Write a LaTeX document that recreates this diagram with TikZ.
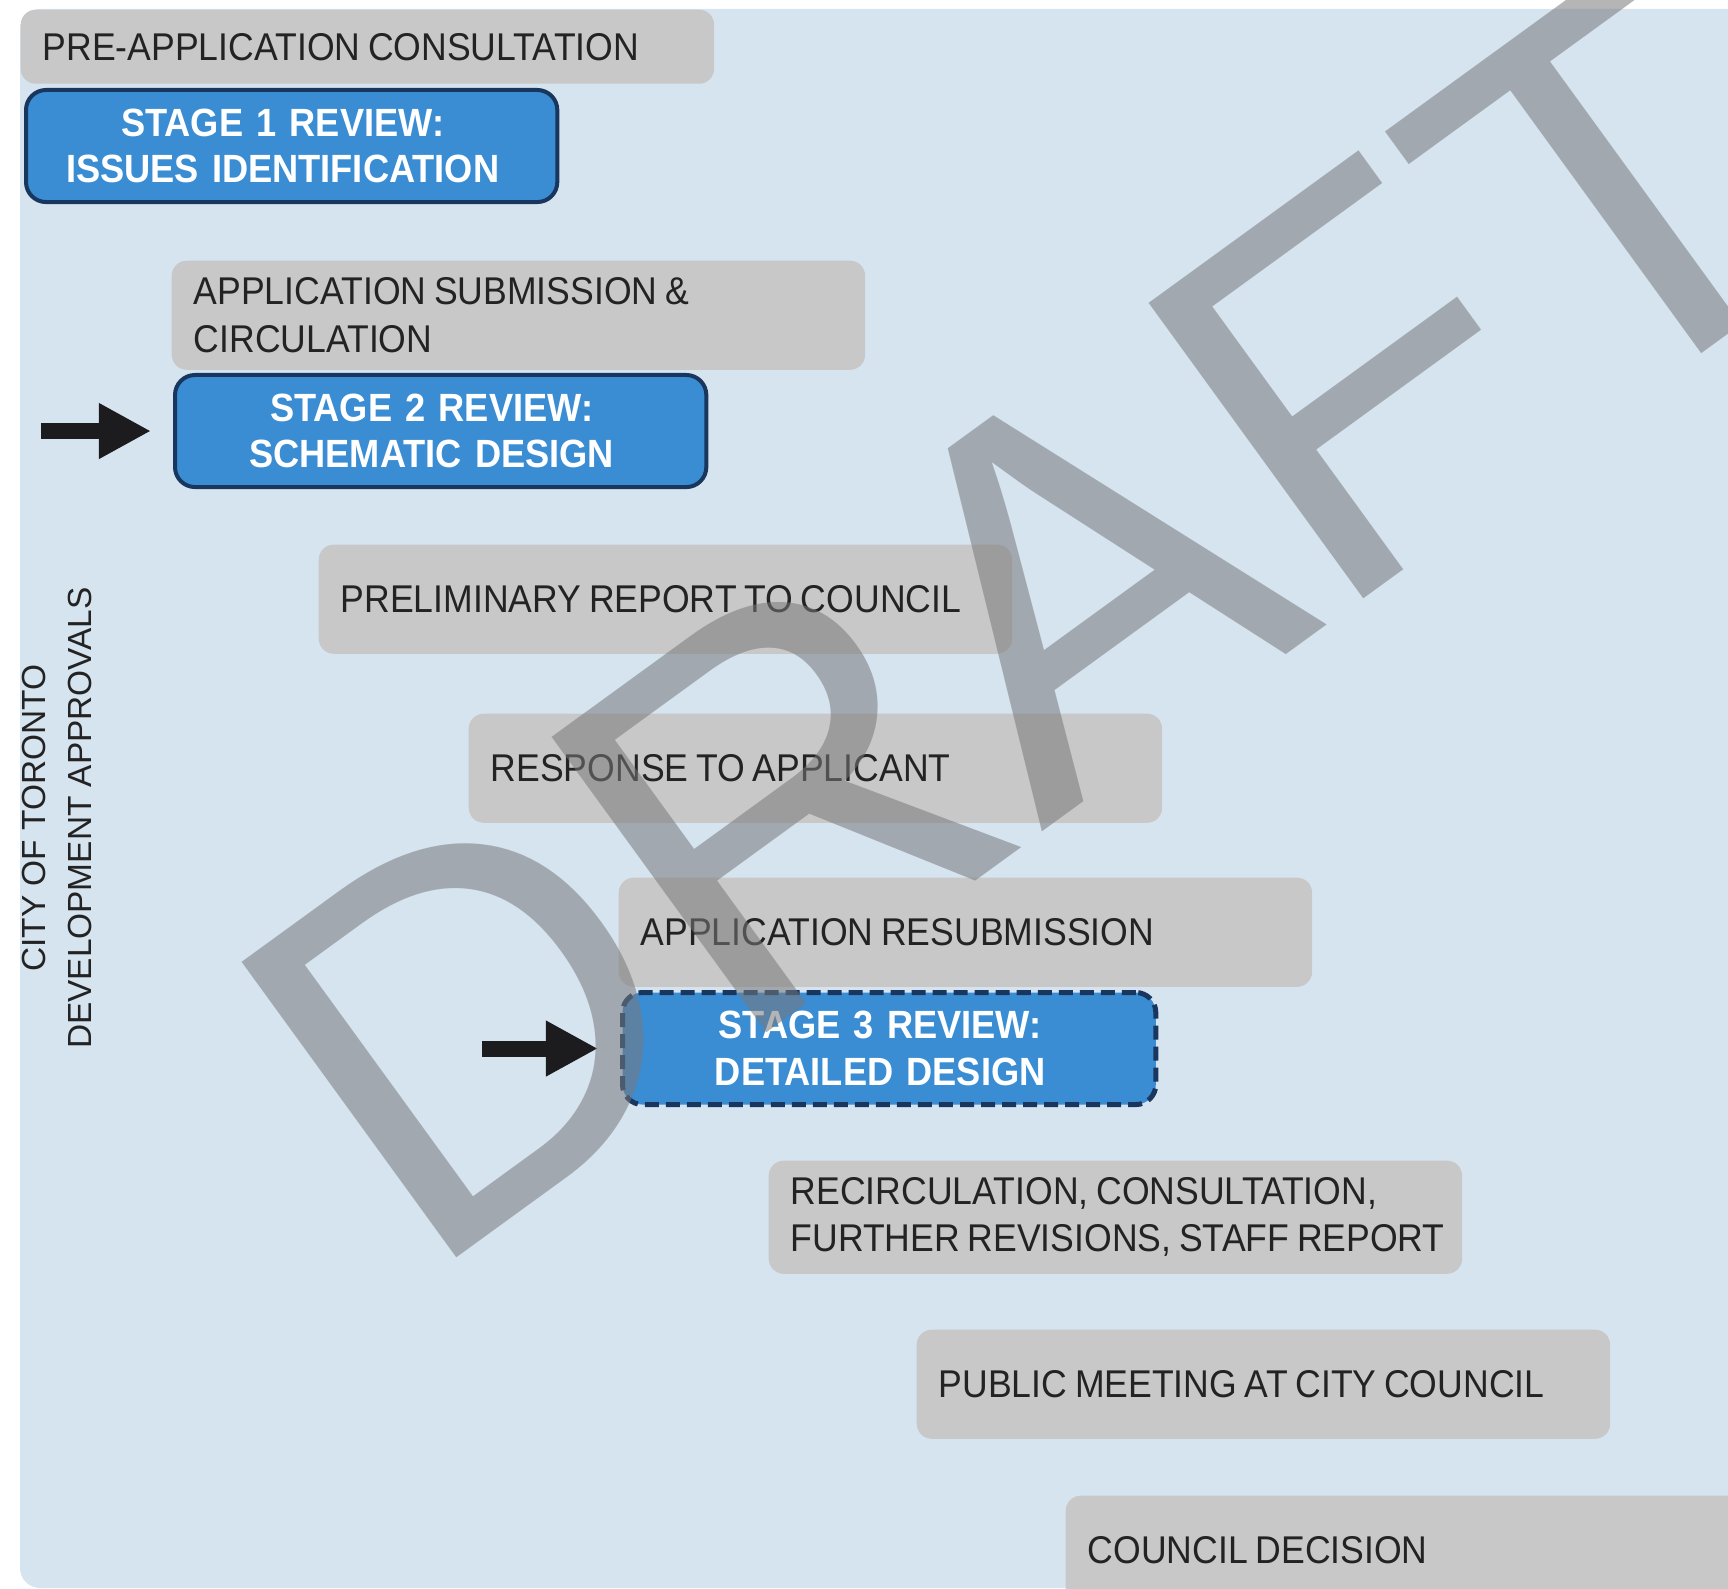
\documentclass[tikz,border=0pt]{standalone}
\usepackage{fontspec}
\setmainfont{Liberation Sans}[FakeStretch=0.92]
\newfontfamily\draftfont{Liberation Sans}
\newfontfamily\sidefont{Liberation Sans}
\usepackage{tikz}
\usetikzlibrary{arrows.meta}
\definecolor{PanelColor}{RGB}{214,228,240}
\definecolor{PhaseGray}{RGB}{200,200,201}
\definecolor{StageBlue}{RGB}{58,141,211}
\definecolor{StageEdge}{RGB}{24,54,94}
\definecolor{InkDark}{RGB}{35,35,35}
\definecolor{ArrowDark}{RGB}{28,28,30}
\definecolor{DraftGray}{RGB}{120,120,122}
\hyphenpenalty=10000
\exhyphenpenalty=10000

\begin{document}
\begin{tikzpicture}[x=0.01cm, y=-0.01cm,
    phase/.style={fill=PhaseGray, rounded corners=0.15cm, anchor=north west,
      minimum width=6.93cm, minimum height=1.09cm, text width=6.8cm,
      inner xsep=0.065cm, inner ysep=0pt, align=left, text=InkDark,
      execute at begin node={\leftskip=0.155cm
        \spaceskip=0.2em plus 0.1em minus 0.06em},
      font=\fontsize{11}{13.4}\selectfont},
    review/.style={fill=StageBlue, draw=StageEdge, line width=0.04cm,
      rounded corners=0.2cm, anchor=north west, minimum width=5.31cm,
      minimum height=1.12cm, text width=5.11cm, inner xsep=0.1cm,
      align=center, text=white,
      execute at begin node={\leftskip=0pt plus 1fil
        \rightskip=0.18cm plus 1fil\parfillskip=0pt},
      font=\fontsize{11.2}{13.2}\selectfont\bfseries},
    pointer/.style={ArrowDark, line width=0.16cm,
      -{Triangle[length=0.52cm, width=0.52cm]}, shorten >=0.22cm},
    draftmark/.style={rotate=36, anchor=base west, inner sep=0pt,
      text=DraftGray, text opacity=0.55,
      font=\draftfont\fontsize{151}{151}\selectfont}]
  \useasboundingbox (0,0) rectangle (1728,1589);
  \clip (0,0) rectangle (1728,1589);
  % Panel
  \fill[PanelColor, rounded corners=0.2cm] (20,9) rectangle (1760,1588);
  % Side label
  \node[rotate=90, align=center, text=InkDark,
    font=\sidefont\fontsize{9.5}{12.8}\selectfont] (agency) at (57,818)
    {CITY OF TORONTO\\DEVELOPMENT APPROVALS};
  % Phases
  \node[phase, minimum height=0.74cm] (preapp) at (20,9) {PRE-APPLICATION CONSULTATION};
  \node[phase] (submit) at (171,260) {APPLICATION SUBMISSION \&\\CIRCULATION};
  \node[phase] (prelim) at (318,544) {PRELIMINARY REPORT TO COUNCIL};
  \node[phase] (respond) at (468,713) {RESPONSE TO APPLICANT};
  \node[phase] (resubmit) at (618,877) {APPLICATION RESUBMISSION};
  \node[phase, minimum height=1.13cm] (recirc) at (768,1160)
    {RECIRCULATION, CONSULTATION,\\FURTHER REVISIONS, STAFF REPORT};
  \node[phase] (meeting) at (916,1329) {PUBLIC MEETING AT CITY COUNCIL};
  \node[phase] (decision) at (1065,1495) {COUNCIL DECISION};
  % Reviews
  \node[review] (stage1) at (24,88) {STAGE 1 REVIEW:\\ISSUES IDENTIFICATION};
  \node[review] (stage2) at (173,373) {STAGE 2 REVIEW:\\SCHEMATIC DESIGN};
  \node[review, minimum width=5.33cm, line width=0.05cm,
    dash pattern=on 0.14cm off 0.07cm] (stage3) at (620,990)
    {STAGE 3 REVIEW:\\DETAILED DESIGN};
  % Pointers
  \coordinate (from2) at ([xshift=-1.32cm]stage2.west);
  \coordinate (from3) at ([xshift=-1.38cm]stage3.west);
  \draw[pointer] (from2) -- (stage2.west);
  \draw[pointer] (from3) -- (stage3.west);
  % Watermark
  \node[draftmark] (draft) at (421,1284) {DRAFT};
\end{tikzpicture}
\end{document}
